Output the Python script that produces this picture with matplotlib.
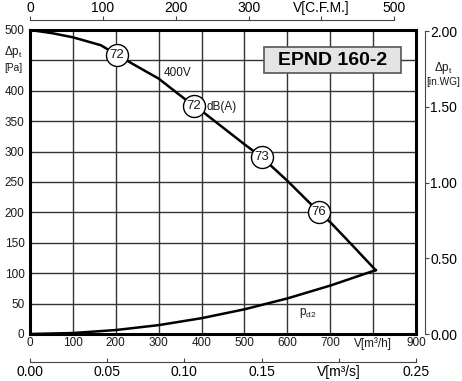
import matplotlib.pyplot as plt
from matplotlib.patches import Rectangle

plt.rcParams['font.family'] = ['Liberation Sans', 'DejaVu Sans']
plt.rcParams['mathtext.fontset'] = 'custom'
plt.rcParams['mathtext.rm'] = 'Liberation Sans'
plt.rcParams['mathtext.it'] = 'Liberation Sans:italic'

# data
flow_main = [0, 50, 100, 165, 203, 250, 300, 382, 400, 500, 540, 600, 673, 700, 750, 806]
dp_main = [500, 495, 488, 475, 459, 440, 420, 375, 367, 312, 291, 252, 201, 184, 147, 105]
flow_pd = [0, 100, 200, 300, 400, 500, 600, 700, 806]
dp_pd = [0, 1.6, 6.5, 14.6, 26, 40.6, 58.5, 79.6, 105]
mark_flow = [203, 382, 540, 673]
mark_dp = [459, 375, 291, 201]
mark_db = ['72', '72', '73', '76']

x_ticks = [0, 100, 200, 300, 400, 500, 600, 700, 800, 900]
x_labels = ['0', '100', '200', '300', '400', '500', '600', '700', 'V[m³/h]', '900']
y_ticks = [0, 50, 100, 150, 200, 250, 300, 350, 400, 450, 500]
y_labels = ['0', '50', '100', '150', '200', '250', '300', '350', '400', '', '500']
cfm_ticks = [0, 100, 200, 300, 400, 500]
cfm_labels = ['0', '100', '200', '300', 'V[C.F.M.]', '500']
ms_ticks = [0, 0.05, 0.10, 0.15, 0.20, 0.25]
ms_labels = ['0.00', '0.05', '0.10', '0.15', 'V[m³/s]', '0.25']
wg_ticks = [0, 0.5, 1.0, 1.5, 2.0]
wg_labels = ['0.00', '0.50', '1.00', '1.50', '2.00']

fs = 8.5
txt = '#1a1a1a'
PX = 0.72  # points per pixel at dpi 100

fig = plt.figure(figsize=(4.62, 3.81), dpi=100)
ax = fig.add_axes([30 / 462, 1 - 334 / 381, 386 / 462, 304 / 381])
ax.set_xlim(0, 900)
ax.set_ylim(0, 500)

ax.set_xticks(x_ticks)
ax.set_xticklabels(x_labels, fontsize=fs, color=txt)
ax.set_yticks(y_ticks)
ax.set_yticklabels(y_labels, fontsize=fs, color=txt)
ax.tick_params(axis='x', length=0, pad=2)
ax.tick_params(axis='y', length=0, pad=4)
ax.grid(True, color='#333333', lw=1.0)
ax.set_axisbelow(True)
for s in ax.spines.values():
    s.set_linewidth(2.2)
    s.set_color('black')

ax.plot(flow_main, dp_main, color='black', lw=1.8, zorder=3)
ax.plot(flow_pd, dp_pd, color='black', lw=1.8, zorder=3)

ax.scatter(mark_flow, mark_dp, s=(22 * PX) ** 2, facecolor='white',
           edgecolor='black', linewidth=1.0, zorder=4)
for f, d, t in zip(mark_flow, mark_dp, mark_db):
    ax.text(f, d, t, fontsize=9.5, ha='center', va='center', color=txt, zorder=5)

ax.text(345, 429, '400V', fontsize=fs, color=txt, ha='center', va='center')
ax.text(411, 374, 'dB(A)', fontsize=fs, color=txt, ha='left', va='center')
ax.text(627, 35, 'p$_\\mathrm{d2}$', fontsize=fs, color=txt, ha='left', va='center')

ax.text(-0.044, 464, 'Δp$_\\mathrm{t}$', fontsize=fs, color=txt,
        ha='center', va='center', transform=ax.get_yaxis_transform())
ax.text(-0.044, 437, '[Pa]', fontsize=7.3, color=txt,
        ha='center', va='center', transform=ax.get_yaxis_transform())

# title box
ax.add_patch(Rectangle((546, 429), 319, 43, facecolor='#e4e4e4',
                       edgecolor='#555555', lw=1.2, zorder=4))
ax.text(705, 450.5, 'EPND 160-2', fontsize=14, fontweight='bold',
        ha='center', va='center', color='black', zorder=5)

# top C.F.M. axis
top = ax.secondary_xaxis('top', functions=(lambda v: v / 1.699, lambda c: c * 1.699))
top.set_xticks(cfm_ticks)
top.set_xticklabels(cfm_labels, fontsize=fs, color=txt)
top.spines['top'].set_position(('outward', 10 * PX))
top.spines['top'].set_bounds(0, 500)
top.spines['top'].set_color('#444444')
top.tick_params(direction='out', length=4 * PX, color='#444444', pad=1)

# bottom m3/s axis
bot = ax.secondary_xaxis('bottom', functions=(lambda v: v / 3600, lambda q: q * 3600))
bot.set_xticks(ms_ticks)
bot.set_xticklabels(ms_labels, fontsize=fs, color=txt)
bot.spines['bottom'].set_position(('outward', 28 * PX))
bot.spines['bottom'].set_bounds(0, 0.25)
bot.spines['bottom'].set_color('#444444')
bot.tick_params(direction='in', length=4 * PX, color='#444444', pad=2)

# right in.WG axis
rgt = ax.secondary_yaxis('right', functions=(lambda p: p / 249.09, lambda w: w * 249.09))
rgt.set_yticks(wg_ticks)
rgt.set_yticklabels(wg_labels, fontsize=fs, color=txt)
rgt.spines['right'].set_position(('outward', 9 * PX))
rgt.spines['right'].set_bounds(0, 2.0)
rgt.spines['right'].set_color('#444444')
rgt.tick_params(direction='out', length=4 * PX, color='#444444', pad=1)

ax.text(1.07, 437, 'Δp$_\\mathrm{t}$', fontsize=fs, color=txt,
        ha='center', va='center', transform=ax.get_yaxis_transform())
ax.text(1.07, 414, '[in.WG]', fontsize=7.3, color=txt,
        ha='center', va='center', transform=ax.get_yaxis_transform())

fig.savefig('out.png', dpi=100)
